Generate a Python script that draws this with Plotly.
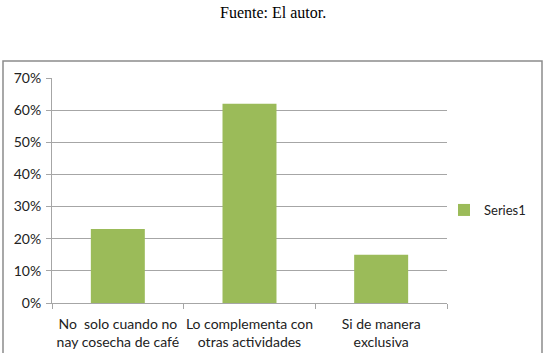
import plotly.graph_objects as go

categories = ["No  solo cuando no<br>nay cosecha de café",
              "Lo complementa con<br>otras actividades",
              "Si de manera<br>exclusiva"]
values = [0.23, 0.62, 0.15]
series_name = "Series1"
ytick_vals = [0, 0.1, 0.2, 0.3, 0.4, 0.5, 0.6, 0.7]
ytick_text = ["0%", "10%", "20%", "30%", "40%", "50%", "60%", "70%"]

L, R, T, B = 52, 99, 78, 50
W, H = 546, 353
pw, ph = W - L - R, H - T - B

def px_x(p):
    return (p - L) / pw

def px_y(p):
    return (H - B - p) / ph

fig = go.Figure()
fig.add_trace(go.Bar(x=categories, y=values, name=series_name,
                     marker=dict(color="#9BBB59", line=dict(width=0)),
                     showlegend=True))

fig.update_layout(
    width=W, height=H,
    margin=dict(l=L, r=R, t=T, b=B, autoexpand=False),
    paper_bgcolor="white", plot_bgcolor="white",
    bargap=0.59,
    font=dict(family="Lato, Open Sans, sans-serif", size=14, color="#222"),
    showlegend=True,
    legend=dict(x=px_x(444), y=px_y(210), xanchor="left", yanchor="middle",
                font=dict(size=13), itemwidth=30, bgcolor="rgba(0,0,0,0)"),
    xaxis=dict(showline=True, linecolor="#A6A6A6", linewidth=1,
               ticks="outside", ticklen=5, tickcolor="#A6A6A6",
               tickson="boundaries", showgrid=False, tickangle=0,
               automargin=False, ticklabelstandoff=8,
               tickfont=dict(size=14, color="#222")),
    yaxis=dict(range=[0, 0.7], tickvals=ytick_vals, ticktext=ytick_text,
               showline=True, linecolor="#A6A6A6", linewidth=1,
               ticks="outside", ticklen=5, tickcolor="#A6A6A6",
               showgrid=True, gridcolor="#A6A6A6", gridwidth=1,
               automargin=False, ticklabelstandoff=2,
               zeroline=False, tickfont=dict(size=14, color="#222")),
    shapes=[dict(type="rect", xref="paper", yref="paper",
                 x0=px_x(3), x1=px_x(542), y0=px_y(360), y1=px_y(61),
                 line=dict(color="#8C8C8C", width=1.5), layer="below")],
    annotations=[dict(text="Fuente: El autor.", xref="paper", yref="paper",
                      x=px_x(273), y=px_y(12), xanchor="center", yanchor="middle",
                      showarrow=False,
                      font=dict(family="Liberation Serif, serif", size=16, color="black"))],
)

fig.write_html("out.html")
